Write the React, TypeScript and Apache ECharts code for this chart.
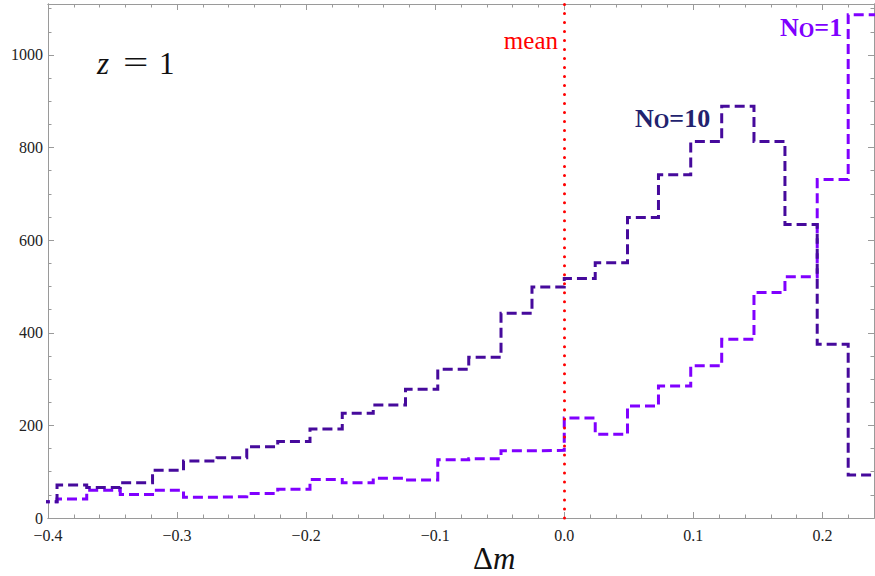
import React, { useEffect, useRef } from "react";
import * as echarts from "echarts";

// Bin edges (Δm); 27 bins, last edge closes final bin
const binEdges = [
  -0.418, -0.393, -0.37, -0.344, -0.319, -0.295, -0.269, -0.246, -0.222,
  -0.197, -0.172, -0.148, -0.123, -0.098, -0.074, -0.049, -0.025, 0.0,
  0.024, 0.049, 0.073, 0.098, 0.122, 0.147, 0.171, 0.196, 0.22, 0.245,
];
const countsNO10 = [
  35, 71, 66, 76, 103, 123, 130, 154, 165, 192, 226, 244, 278, 321, 347, 442,
  499, 517, 551, 649, 741, 813, 889, 813, 634, 375, 93,
];
const countsNO1 = [
  35, 41, 60, 51, 60, 45, 46, 53, 62, 83, 76, 86, 82, 126, 128, 145, 146, 216,
  181, 242, 285, 329, 386, 487, 521, 731, 1087,
];
const meanValue = 0;
const xRange = [-0.4, 0.24];
const yRange = [0, 1110];
const xMajor = 0.1;
const xMinor = 0.02;
const yMajor = 200;
const yMinor = 50;

const FF = "'Liberation Serif', 'Times New Roman', serif";
const GRAY = "#9a9a9a";
const DARK = "#460a9c";
const LIGHT = "#8000ff";

function stepData(edges: number[], counts: number[]) {
  return edges.map((e, i) => [e, counts[Math.min(i, counts.length - 1)]]);
}

function fmtX(v: number) {
  if (Math.abs(v) < 1e-9) return "0.0";
  return (v < 0 ? "\u2212" : "") + Math.abs(v).toFixed(1);
}

function xAx(position: string, interval: number, len: number, labels: boolean) {
  return {
    type: "value",
    position,
    min: xRange[0],
    max: xRange[1],
    interval,
    axisLine: { show: true, onZero: false, lineStyle: { color: GRAY, width: 1 } },
    axisTick: { show: true, inside: true, length: len, lineStyle: { color: GRAY, width: 1 } },
    axisLabel: labels
      ? {
          show: true,
          formatter: fmtX,
          fontFamily: FF,
          fontSize: 16,
          color: "#222",
          margin: 9,
          showMaxLabel: false,
        }
      : { show: false },
    splitLine: { show: false },
  };
}

function yAx(position: string, interval: number, len: number, labels: boolean) {
  return {
    type: "value",
    position,
    min: yRange[0],
    max: yRange[1],
    interval,
    axisLine: { show: true, onZero: false, lineStyle: { color: GRAY, width: 1 } },
    axisTick: { show: true, inside: true, length: len, lineStyle: { color: GRAY, width: 1 } },
    axisLabel: labels
      ? {
          show: true,
          formatter: (v: number) => String(Math.round(v)),
          fontFamily: FF,
          fontSize: 16,
          color: "#222",
          margin: 5,
          showMaxLabel: false,
        }
      : { show: false },
    splitLine: { show: false },
  };
}

export default function App() {
  const ref = useRef<HTMLDivElement>(null);
  useEffect(() => {
    if (!ref.current) return;
    const chart = echarts.init(ref.current, undefined, { renderer: "svg" });
    const labelRich = (color: string) => ({
      n: { fontSize: 26, fontWeight: "bold", fontFamily: FF, fill: color, verticalAlign: "bottom", lineHeight: 28 },
      o: { fontSize: 20, fontWeight: "bold", fontFamily: FF, fill: color, verticalAlign: "bottom", lineHeight: 24 },
    });
    chart.setOption({
      animation: false,
      backgroundColor: "#ffffff",
      grid: { left: 48, right: 1, top: 4, bottom: 58, containLabel: false },
      xAxis: [
        xAx("bottom", xMajor, 6, true),
        xAx("bottom", xMinor, 3.5, false),
        xAx("top", xMajor, 6, false),
        xAx("top", xMinor, 3.5, false),
      ],
      yAxis: [
        yAx("left", yMajor, 6, true),
        yAx("left", yMinor, 3.5, false),
        yAx("right", yMajor, 6, false),
        yAx("right", yMinor, 3.5, false),
      ],
      series: [
        {
          name: "N_O=1",
          type: "line",
          step: "end",
          showSymbol: false,
          symbol: "none",
          clip: true,
          data: stepData(binEdges, countsNO1),
          lineStyle: { color: LIGHT, width: 3, type: [10, 5], cap: "butt", join: "miter" },
          z: 3,
        },
        {
          name: "N_O=10",
          type: "line",
          step: "end",
          showSymbol: false,
          symbol: "none",
          clip: true,
          data: stepData(binEdges, countsNO10),
          lineStyle: { color: DARK, width: 3, type: [10, 5], cap: "butt", join: "miter" },
          z: 4,
          markLine: {
            silent: true,
            symbol: "none",
            label: { show: false },
            data: [{ xAxis: meanValue }],
            lineStyle: { color: "#ff0000", width: 3, type: [0.01, 9], cap: "round" },
          },
        },
      ],
      graphic: [
        { type: "text", x: 97, y: 63, style: { text: "z", fontFamily: FF, fontStyle: "italic", fontSize: 31, fill: "#111", verticalAlign: "middle" } },
        { type: "text", x: 123, y: 63, scaleX: 1.45, style: { text: "=", fontFamily: FF, fontSize: 31, fill: "#111", verticalAlign: "middle" } },
        { type: "text", x: 159, y: 63, style: { text: "1", fontFamily: FF, fontSize: 31, fill: "#111", verticalAlign: "middle" } },
        { type: "text", x: 558, y: 40, style: { text: "mean", fontFamily: FF, fontSize: 25, fill: "#ff0000", align: "right", verticalAlign: "middle" } },
        { type: "text", x: 635, y: 117, style: { text: "{n|N}{o|O}{n|=10}", rich: labelRich("#22226e"), verticalAlign: "middle" } },
        { type: "text", x: 780, y: 26, style: { text: "{n|N}{o|O}{n|=1}", rich: labelRich("#7f00ff"), verticalAlign: "middle" } },
        {
          type: "text",
          x: 473,
          y: 558,
          style: {
            text: "{d|\u0394}{m|m}",
            rich: {
              d: { fontSize: 31, fontFamily: FF, fill: "#111" },
              m: { fontSize: 31, fontFamily: FF, fontStyle: "italic", fill: "#111" },
            },
            verticalAlign: "middle",
          },
        },
      ],
    });
    return () => chart.dispose();
  }, []);
  return (
    <div
      ref={ref}
      style={{ position: "fixed", left: 0, top: 0, width: 875, height: 576, background: "#fff" }}
    />
  );
}
